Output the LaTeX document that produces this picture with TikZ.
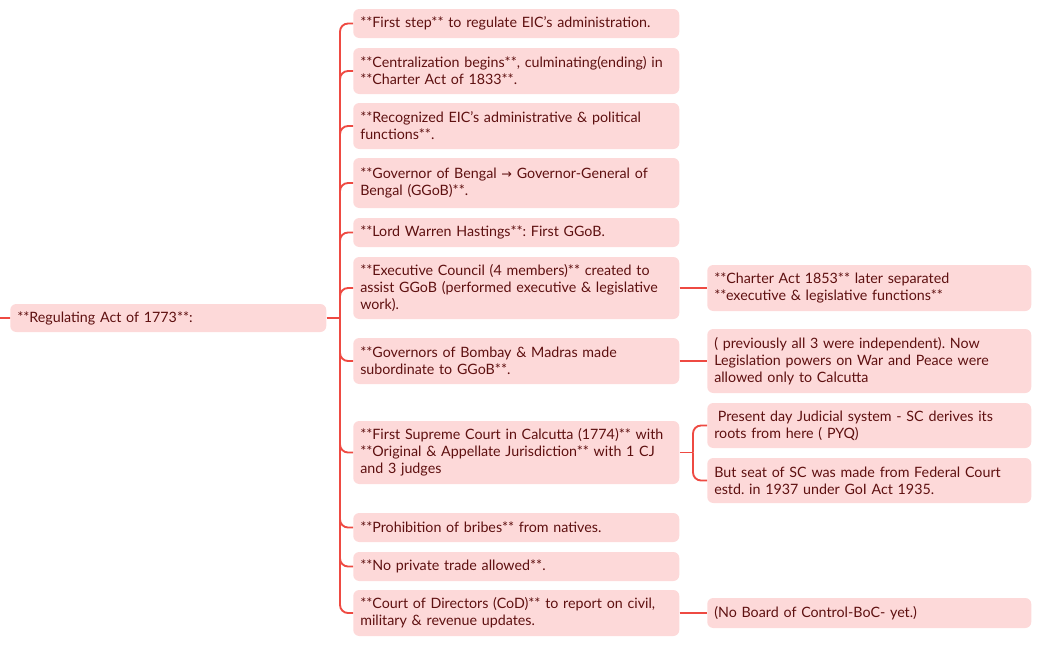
\documentclass[tikz,border=0pt]{standalone}
\usepackage{fontspec}
\setmainfont{Lato}
\newfontfamily\symfont{DejaVu Sans}
\frenchspacing
\definecolor{boxpink}{HTML}{FDD9D9}
\definecolor{textred}{HTML}{5E1010}
\definecolor{linered}{HTML}{EE4A42}

\begin{document}
\begin{tikzpicture}[x=0.75pt,y=-0.75pt]
		\tikzstyle{topic}=[rectangle,rounded corners=4.5pt,fill=boxpink,text=textred,align=left,anchor=west,inner xsep=5.25pt,inner ysep=0pt,font=\fontsize{10.7}{12.75}\selectfont]
		\tikzstyle{child topic}=[topic,text width=234pt]
		\tikzstyle{note topic}=[topic,text width=232.5pt]
		\tikzstyle{branch}=[draw=linered,line width=1.4pt,rounded corners=6pt]

		\useasboundingbox (0,0) rectangle (1054,646);

			% Root topic
		\node[topic,text width=226.5pt,minimum height=21pt] (root) at (10,318) {**Regulating Act of 1773**:};
		\coordinate (parent) at (-8,296);
		\coordinate (spine) at (340,318);
		\draw[branch] (parent) |- (root.west);
		\draw[branch] (root.east) -- (spine);

			% Draw the child topics
		\foreach \name / \y / \h / \txt in {
			1/23.5/29/{**First step** to regulate EIC’s administration.},
			2/71/46/{**Centralization begins**, culminating(ending) in\\{}**Charter Act of 1833**.},
			3/126/46/{**Recognized EIC’s administrative \& political\\functions**.},
			4/183/50/{**Governor of Bengal {\symfont\fontsize{9.5}{12.75}\selectfont →} Governor-General of\\Bengal (GGoB)**.},
			5/232.5/29/{**Lord Warren Hastings**: First GGoB.},
			6/288/62/{**Executive Council (4 members)** created to\\assist GGoB (performed executive \& legislative\\work).},
			7/361/46/{**Governors of Bombay \& Madras made\\subordinate to GGoB**.},
			8/452.5/63/{**First Supreme Court in Calcutta (1774)** with\\{}**Original \& Appellate Jurisdiction** with 1 CJ\\and 3 judges},
			9/527.5/29/{**Prohibition of bribes** from natives.},
			10/566.5/29/{**No private trade allowed**.},
			11/613/46/{**Court of Directors (CoD)** to report on civil,\\military \& revenue updates.}}
		\node[child topic,minimum height=\h*0.75pt] (C-\name) at (353,\y) {\txt};

			% Connect the root with every child topic
		\foreach \name in {1,...,11}
		\draw[branch] (spine) |- (C-\name.west);

			% Draw the notes on the right
		\foreach \name / \y / \h / \txt in {
			a/288/46/{**Charter Act 1853** later separated\\{}**executive \& legislative functions**},
			b/361/64/{( previously all 3 were independent). Now\\Legislation powers on War and Peace were\\allowed only to Calcutta},
			c/425.5/45/{\hspace*{0.25em}Present day Judicial system - SC derives its\\roots from here ( PYQ)},
			d/480.5/45/{But seat of SC was made from Federal Court\\estd. in 1937 under GoI Act 1935.},
			e/613/30/{(No Board of Control-BoC- yet.)}}
		\node[note topic,minimum height=\h*0.75pt] (N-\name) at (707,\y) {\txt};

		\coordinate (fork) at (693,452.5);
		\draw[branch] (C-6.east) -- (N-a.west);
		\draw[branch] (C-7.east) -- (N-b.west);
		\draw[branch] (C-8.east) -- (fork);
		\draw[branch] (fork) |- (N-c.west);
		\draw[branch] (fork) |- (N-d.west);
		\draw[branch] (C-11.east) -- (N-e.west);
\end{tikzpicture}
\end{document}
